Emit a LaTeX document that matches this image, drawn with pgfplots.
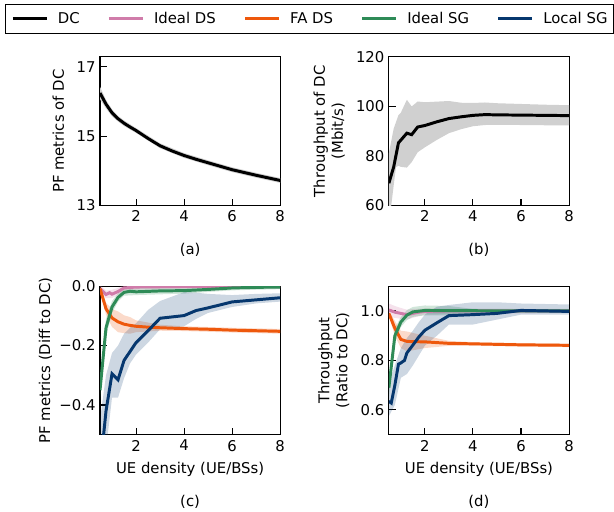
\documentclass[border=0pt]{standalone}
\usepackage{fontspec}
\setmainfont{DejaVu Sans}
\usepackage{pgfplots}
\pgfplotsset{compat=1.18}
\usepgfplotslibrary{fillbetween}

\definecolor{cpink}{RGB}{208,124,170}
\definecolor{corange}{RGB}{238,88,12}
\definecolor{cgreen}{RGB}{46,139,87}
\definecolor{cnavy}{RGB}{6,55,110}
\definecolor{cband}{RGB}{208,208,208}

\newcommand{\bigf}{\fontsize{15}{18}\selectfont}

\pgfplotsset{
  panel/.style={
    scale only axis, width=182pt, height=150pt,
    xmin=0.5, xmax=8, xtick={2,4,6,8}, xticklabels={2,4,6,8},
    tick align=inside, major tick length=7pt,
    xtick pos=bottom, ytick pos=left,
    axis line style={line width=1.1pt},
    tick style={line width=1.1pt, black},
    clip mode=individual,
    font=\bigf,
    tick label style={font=\bigf},
    label style={font=\bigf},
    xticklabel style={yshift=-2pt},
    yticklabel style={xshift=-1pt},
    every axis y label/.style={rotate=90, anchor=center, align=center},
    every axis x label/.style={at={(axis description cs:0.5,-0.26)}, anchor=base},
  },
  band/.style={draw=none, forget plot},
  ln/.style={line width=3pt},
}

\begin{document}
\begin{tikzpicture}
\path (0pt,0pt) rectangle (614pt,-517pt);

% (a) PF metrics of DC
\begin{axis}[panel, at={(101pt,-57.5pt)}, anchor=north west,
  ymin=13, ymax=17.28, ytick={13,15,17}, yticklabels={13,15,17},
  ylabel={PF metrics of DC},
  ylabel style={at={(axis description cs:-0.231,0.5)}},
  legend columns=5,
  legend image code/.code={\draw[#1] (0pt,0pt) -- (34pt,0pt);},
  legend style={at={(axis description cs:-0.5275,1.3567)}, anchor=north west,
    draw=black, line width=1.1pt, inner xsep=6pt, inner ysep=8pt,
    font=\bigf,
    nodes={inner sep=0pt, anchor=west},
    /tikz/every odd column/.append style={column sep=10pt},
    /tikz/every even column/.append style={column sep=28pt}},
]
\addplot[band, name path=au] coordinates {(0.5,16.42) (0.75,16.04) (1,15.77) (1.25,15.58) (1.5,15.45) (2,15.23) (3,14.79) (4,14.51) (5,14.30) (6,14.10) (7,13.94) (8,13.79)};
\addplot[band, name path=al] coordinates {(0.5,16.06) (0.75,15.80) (1,15.57) (1.25,15.42) (1.5,15.29) (2,15.09) (3,14.65) (4,14.37) (5,14.16) (6,13.96) (7,13.80) (8,13.65)};
\addplot[cband, forget plot] fill between[of=au and al];
\addplot[black, ln] coordinates {(0.5,16.24) (0.75,15.92) (1,15.67) (1.25,15.50) (1.5,15.37) (1.75,15.26) (2,15.16) (2.5,14.93) (3,14.72) (3.5,14.57) (4,14.44) (4.5,14.33) (5,14.23) (6,14.03) (7,13.87) (8,13.72)};
\addlegendentry{DC}
\addlegendimage{cpink, ln}\addlegendentry{Ideal DS}
\addlegendimage{corange, ln}\addlegendentry{FA DS}
\addlegendimage{cgreen, ln}\addlegendentry{Ideal SG}
\addlegendimage{cnavy, ln}\addlegendentry{Local SG}
\node[anchor=base, font=\bigf] at (axis description cs:0.5,-0.33) {(a)};
\end{axis}

% (b) Throughput of DC
\begin{axis}[panel, at={(392.7pt,-57.5pt)}, anchor=north west,
  ymin=60, ymax=120, ytick={60,80,100,120}, yticklabels={60,80,100,120},
  ylabel={Throughput of DC\\(Mbit/s)},
  ylabel style={at={(axis description cs:-0.331,0.5)}},
]
\addplot[band, name path=bu] coordinates {(0.5,81) (0.7,91) (0.9,96.5) (1,97.5) (1.25,102.7) (1.45,100) (1.7,102) (2,101.7) (3,102.2) (3.5,101.5) (4,101.4) (4.5,101.6) (5,101.3) (6,101) (7,100.7) (8,100.5)};
\addplot[band, name path=bl] coordinates {(0.5,57) (0.6,60) (0.75,72) (0.8,75.5) (0.9,76) (1,75.6) (1.25,75.3) (1.45,77.5) (1.7,81.5) (2,83.5) (2.5,86.5) (3,89.2) (3.5,90.8) (4,92) (4.5,92.5) (5,92.6) (6,92.5) (7,92.4) (8,92.4)};
\addplot[cband, forget plot] fill between[of=bu and bl];
\addplot[black, ln] coordinates {(0.5,69) (0.7,75.5) (0.9,85.3) (1,86.4) (1.25,89.2) (1.45,88.6) (1.7,91.7) (2,92.3) (2.5,93.8) (3,95.1) (3.5,95.8) (4,96.4) (4.5,96.7) (5,96.6) (6,96.5) (7,96.4) (8,96.3)};
\node[anchor=base, font=\bigf] at (axis description cs:0.5,-0.33) {(b)};
\end{axis}

% (c) PF metrics difference to DC
\begin{axis}[panel, at={(101pt,-289pt)}, anchor=north west,
  ymin=-0.5, ymax=0, ytick={-0.4,-0.2,0}, yticklabels={−0.4,−0.2,0.0},
  ylabel={PF metrics (Diff to DC)},
  ylabel style={at={(axis description cs:-0.302,0.5)}},
  xlabel={UE density (UE/BSs)},
]
% bands
\addplot[band, name path=cpu] coordinates {(0.5,0.004) (0.75,-0.015) (1,-0.012) (1.25,-0.006) (1.5,0.004) (2,0.007) (8,0.008)};
\addplot[band, name path=cpl] coordinates {(0.5,-0.02) (0.75,-0.04) (1,-0.04) (1.25,-0.03) (1.5,-0.016) (2,-0.012) (8,-0.008)};
\addplot[cpink, fill opacity=0.22, forget plot] fill between[of=cpu and cpl];
\addplot[band, name path=cou] coordinates {(0.5,0.002) (0.75,-0.056) (1,-0.077) (1.25,-0.085) (1.5,-0.098) (1.75,-0.104) (2,-0.115) (3,-0.13) (4,-0.135) (6,-0.14) (8,-0.144)};
\addplot[band, name path=col] coordinates {(0.5,-0.018) (0.75,-0.096) (1,-0.137) (1.25,-0.155) (1.5,-0.158) (1.75,-0.16) (2,-0.155) (3,-0.15) (4,-0.151) (6,-0.156) (8,-0.16)};
\addplot[corange, fill opacity=0.22, forget plot] fill between[of=cou and col];
\addplot[band, name path=cgu] coordinates {(0.5,-0.31) (0.75,-0.11) (1,-0.05) (1.25,-0.024) (1.5,-0.01) (2,-0.007) (4,-0.005) (6,0.002) (8,0.004)};
\addplot[band, name path=cgl] coordinates {(0.5,-0.39) (0.75,-0.17) (1,-0.09) (1.25,-0.052) (1.5,-0.032) (2,-0.03) (4,-0.025) (6,-0.014) (8,-0.01)};
\addplot[cgreen, fill opacity=0.22, forget plot] fill between[of=cgu and cgl];
\addplot[band, name path=cnu] coordinates {(0.5,-0.45) (0.75,-0.30) (1,-0.225) (1.25,-0.2) (1.5,-0.16) (1.75,-0.14) (2,-0.125) (2.5,-0.08) (3,-0.05) (4,-0.02) (4.5,-0.022) (5,-0.026) (6,-0.03) (7,-0.026) (8,-0.024)};
\addplot[band, name path=cnl] coordinates {(0.5,-0.75) (0.75,-0.55) (1,-0.375) (1.25,-0.375) (1.5,-0.31) (1.75,-0.26) (2,-0.23) (2.5,-0.19) (3,-0.145) (4,-0.135) (4.5,-0.11) (5,-0.09) (6,-0.07) (7,-0.058) (8,-0.052)};
\addplot[cnavy, fill opacity=0.2, forget plot] fill between[of=cnu and cnl];
% lines
\addplot[cpink, ln] coordinates {(0.5,-0.008) (0.75,-0.028) (0.9,-0.022) (1,-0.027) (1.25,-0.018) (1.5,-0.006) (2,-0.003) (3,-0.002) (4,-0.001) (6,0) (8,0)};
\addplot[corange, ln] coordinates {(0.5,-0.008) (0.75,-0.076) (1,-0.107) (1.25,-0.12) (1.5,-0.128) (1.75,-0.132) (2,-0.135) (2.5,-0.138) (3,-0.14) (4,-0.143) (5,-0.145) (6,-0.148) (7,-0.15) (8,-0.152)};
\addplot[cgreen, ln] coordinates {(0.5,-0.35) (0.75,-0.14) (1,-0.07) (1.25,-0.038) (1.5,-0.021) (1.75,-0.017) (2,-0.019) (3,-0.016) (4,-0.015) (5,-0.011) (6,-0.006) (7,-0.004) (8,-0.003)};
\addplot[cnavy, ln] coordinates {(0.5,-0.62) (0.75,-0.42) (1,-0.295) (1.25,-0.315) (1.5,-0.25) (1.75,-0.22) (2,-0.19) (2.5,-0.15) (3,-0.108) (4,-0.099) (4.5,-0.082) (5,-0.073) (6,-0.053) (7,-0.046) (8,-0.039)};
\node[anchor=base, font=\bigf] at (axis description cs:0.5,-0.4833) {(c)};
\end{axis}

% (d) Throughput ratio to DC
\begin{axis}[panel, at={(392.7pt,-289pt)}, anchor=north west,
  ymin=0.5, ymax=1.1, ytick={0.6,0.8,1.0}, yticklabels={0.6,0.8,1.0},
  ylabel={Throughput\\(Ratio to DC)},
  ylabel style={at={(axis description cs:-0.306,0.5)}},
  xlabel={UE density (UE/BSs)},
]
% bands
\addplot[band, name path=dpu] coordinates {(0.5,1.03) (0.75,1.02) (1,1.012) (1.25,1.005) (1.5,1.008) (2,1.01) (8,1.008)};
\addplot[band, name path=dpl] coordinates {(0.5,0.975) (0.75,0.972) (1,0.968) (1.25,0.965) (1.5,0.972) (2,0.986) (8,0.992)};
\addplot[cpink, fill opacity=0.22, forget plot] fill between[of=dpu and dpl];
\addplot[band, name path=dou] coordinates {(0.5,1.0) (0.75,0.96) (1,0.92) (1.25,0.917) (1.5,0.911) (2,0.9) (3,0.879) (4,0.874) (6,0.87) (8,0.868)};
\addplot[band, name path=dol] coordinates {(0.5,0.98) (0.75,0.9) (1,0.85) (1.25,0.837) (1.5,0.841) (2,0.85) (3,0.859) (4,0.86) (6,0.856) (8,0.854)};
\addplot[corange, fill opacity=0.22, forget plot] fill between[of=dou and dol];
\addplot[band, name path=dgu] coordinates {(0.5,0.73) (0.75,0.93) (1,0.975) (1.25,1.003) (1.5,1.016) (2,1.022) (3,1.02) (4,1.008) (6,1.005) (8,1.004)};
\addplot[band, name path=dgl] coordinates {(0.5,0.65) (0.75,0.87) (1,0.935) (1.25,0.963) (1.5,0.976) (2,0.982) (3,0.982) (4,0.992) (6,0.995) (8,0.996)};
\addplot[cgreen, fill opacity=0.22, forget plot] fill between[of=dgu and dgl];
\addplot[band, name path=dnu] coordinates {(0.5,0.71) (0.75,0.78) (1,0.85) (1.25,0.89) (1.5,0.92) (1.75,0.955) (2,0.985) (2.5,1.017) (3,1.024) (4,1.035) (5,1.035) (6,1.03) (8,1.026)};
\addplot[band, name path=dnl] coordinates {(0.5,0.575) (0.75,0.62) (1,0.73) (1.25,0.745) (1.5,0.78) (1.75,0.82) (2,0.86) (2.5,0.9) (3,0.945) (4,0.945) (5,0.965) (6,0.985) (8,0.985)};
\addplot[cnavy, fill opacity=0.2, forget plot] fill between[of=dnu and dnl];
% lines
\addplot[cpink, ln] coordinates {(0.5,1.004) (0.75,0.995) (1,0.99) (1.25,0.985) (1.5,0.99) (1.75,0.995) (2,0.998) (3,1.0) (8,1.0)};
\addplot[corange, ln] coordinates {(0.5,0.99) (0.75,0.93) (1,0.885) (1.25,0.877) (1.5,0.876) (2,0.875) (3,0.869) (4,0.867) (5,0.865) (6,0.863) (7,0.862) (8,0.861)};
\addplot[cgreen, ln] coordinates {(0.5,0.69) (0.75,0.9) (1,0.955) (1.25,0.983) (1.5,0.996) (1.75,0.999) (2,1.002) (3,1.001) (8,1.0)};
\addplot[cnavy, ln] coordinates {(0.5,0.635) (0.6,0.628) (0.75,0.70) (0.9,0.785) (1,0.79) (1.15,0.80) (1.25,0.83) (1.5,0.862) (1.75,0.895) (2,0.922) (2.5,0.952) (3,0.981) (4,0.985) (5,0.99) (6,1.002) (7,1.0) (8,0.998)};
\node[anchor=base, font=\bigf] at (axis description cs:0.5,-0.4833) {(d)};
\end{axis}
\end{tikzpicture}
\end{document}
